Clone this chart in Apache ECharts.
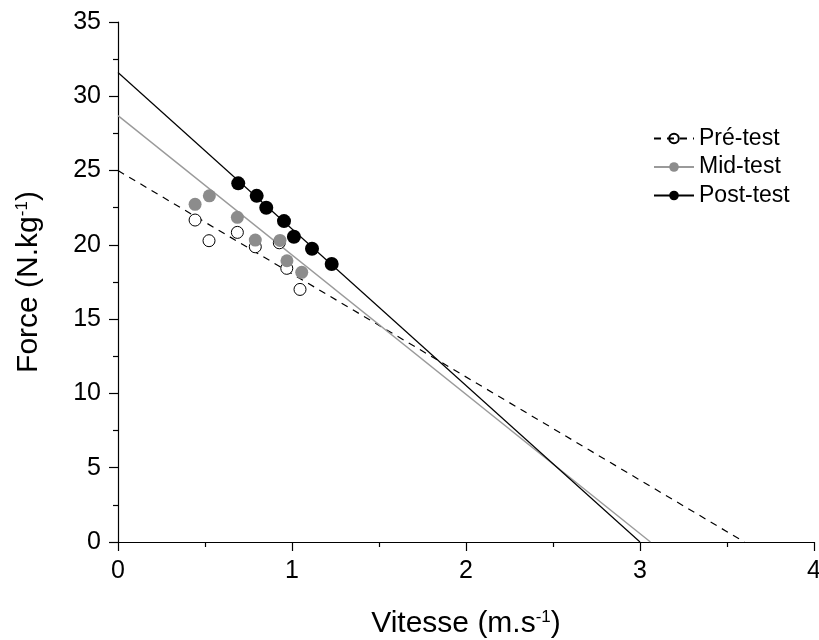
<!DOCTYPE html>
<html>
<head>
<meta charset="utf-8">
<script src="https://cdn.jsdelivr.net/npm/echarts@6/dist/echarts.min.js"></script>
<style>html,body{margin:0;padding:0;background:#fff}#c{width:819px;height:640px}</style>
</head>
<body>
<div id="c"></div>
<script>
// Observed points (velocity m/s, force N/kg)
const preTest = [[0.443,21.67],[0.523,20.28],[0.686,20.84],[0.789,19.87],[0.927,20.14],[0.970,18.42],[1.046,17.0]];
const midTest = [[0.443,22.73],[0.525,23.30],[0.686,21.85],[0.789,20.32],[0.931,20.30],[0.971,18.93],[1.056,18.15]];
const postTest = [[0.691,24.14],[0.797,23.30],[0.852,22.50],[0.954,21.60],[1.011,20.55],[1.115,19.74],[1.228,18.71]];
// Fitted force-velocity lines (endpoints)
const preFit = [[0,25.0],[3.60,0]];
const midFit = [[0,28.7],[3.06,0]];
const postFit = [[0,31.6],[3.00,0]];
const seriesNames = ['Pré-test','Mid-test','Post-test'];
const xTicks = [0,1,2,3,4];
const yTicks = [0,5,10,15,20,25,30,35];

const FONT = 'Liberation Sans, Arial, sans-serif';
const chart = echarts.init(document.getElementById('c'));
const axisCommon = {
  axisLine:{show:true,onZero:false,lineStyle:{color:'#000',width:1.2}},
  axisTick:{show:true,inside:false,length:9,lineStyle:{color:'#000',width:1.2}},
  minorTick:{show:true,splitNumber:2,length:5,lineStyle:{color:'#000',width:1.2}},
  splitLine:{show:false},
  axisLabel:{color:'#000',fontSize:25,fontFamily:FONT,margin:17}
};
const nameRich = {
  a:{fontSize:30,fontFamily:FONT,color:'#000'},
  s:{fontSize:17,fontFamily:FONT,color:'#000',verticalAlign:'top'}
};
chart.setOption({
  animation:false,
  backgroundColor:'#fff',
  grid:{left:118,right:5,top:22,bottom:98,containLabel:false,outerBoundsMode:'none'},
  legend:{
    data:seriesNames,
    orient:'vertical',left:648,top:122,
    itemWidth:40,itemHeight:12,itemGap:5.5,
    textStyle:{fontSize:23,color:'#000',fontFamily:FONT,padding:[0,0,0,0]}
  },
  xAxis:Object.assign({},axisCommon,{
    type:'value',min:xTicks[0],max:xTicks[xTicks.length-1],interval:1,
    name:'{a|Vitesse (m.s}{s|-1}{a|)}',nameLocation:'middle',nameGap:67,
    nameTextStyle:{rich:nameRich}
  }),
  yAxis:Object.assign({},axisCommon,{
    type:'value',min:yTicks[0],max:yTicks[yTicks.length-1],interval:5,
    name:'{a|Force (N.kg}{s|-1}{a|)}',nameLocation:'middle',nameGap:74,nameRotate:90,
    nameTextStyle:{rich:nameRich}
  }),
  series:[
    {name:seriesNames[0],type:'line',data:preFit,showSymbol:false,symbol:'circle',symbolSize:10,
     lineStyle:{color:'#000',width:1.2,type:[7,6]},itemStyle:{color:'rgba(255,255,255,0)',borderColor:'#000',borderWidth:1},z:2},
    {name:seriesNames[1],type:'line',data:midFit,showSymbol:false,symbol:'circle',symbolSize:10,
     lineStyle:{color:'#9a9a9a',width:1.4},itemStyle:{color:'#8c8c8c'},z:2},
    {name:seriesNames[2],type:'line',data:postFit,showSymbol:false,symbol:'circle',symbolSize:10,
     lineStyle:{color:'#000',width:1.2},itemStyle:{color:'#000'},z:2},
    {name:seriesNames[0],type:'scatter',data:preTest,symbol:'circle',symbolSize:12,
     itemStyle:{color:'#fff',borderColor:'#000',borderWidth:1,opacity:1},z:3},
    {name:seriesNames[1],type:'scatter',data:midTest,symbol:'circle',symbolSize:13,
     itemStyle:{color:'#8c8c8c',opacity:1},z:4},
    {name:seriesNames[2],type:'scatter',data:postTest,symbol:'circle',symbolSize:14,
     itemStyle:{color:'#000',opacity:1},z:5}
  ]
});
</script>
</body>
</html>
